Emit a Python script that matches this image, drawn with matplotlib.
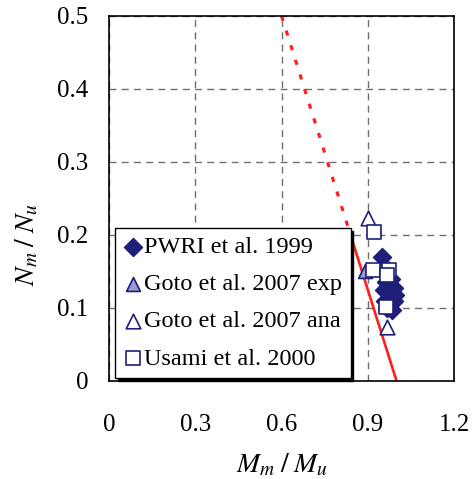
import numpy as np
import matplotlib
matplotlib.use('Agg')
import matplotlib.pyplot as plt

# ---------- DATA ----------
pwri_x = [0.948, 0.955, 0.962, 0.978, 0.990, 0.966, 0.982, 0.995, 0.960, 0.975, 0.992, 0.968, 0.985, 0.958, 0.980]
pwri_y = [0.170, 0.158, 0.135, 0.132, 0.128, 0.122, 0.120, 0.118, 0.110, 0.108, 0.110, 0.100, 0.097, 0.125, 0.140]

goto_exp_x = [0.890]
goto_exp_y = [0.150]

goto_ana_x = [0.902, 0.966]
goto_ana_y = [0.223, 0.074]

usami_x = [0.922, 0.917, 0.974, 0.968, 0.962]
usami_y = [0.204, 0.152, 0.152, 0.145, 0.102]

# interaction line M/Mu = 1 - 0.8 N/Nu
line_n_solid = [0.0, 0.2]
line_n_dotted = [0.5, 0.2]

plt.rcParams['font.family'] = ['Liberation Serif', 'DejaVu Serif']
plt.rcParams['mathtext.fontset'] = 'stix'

fig = plt.figure(figsize=(4.72, 4.79), dpi=100)
ax = fig.add_axes([0.231, 0.2046, 0.731, 0.762])

navy = '#1f1f7a'
red = '#ff1f1f'

n_s = np.array(line_n_solid)
n_d = np.array(line_n_dotted)
ax.plot(1 - 0.8 * n_s, n_s, color=red, lw=1.9, zorder=2)
ax.plot(1 - 0.8 * n_d, n_d, color=red, lw=2.3, ls=(0, (1.6, 3.2)), zorder=2,
        clip_on=False)

ax.scatter(pwri_x, pwri_y, marker='D', s=85, color=navy, zorder=3,
           label='PWRI et al. 1999')
ax.scatter(goto_exp_x, goto_exp_y, marker='^', s=100, facecolor='#9a9acc',
           edgecolor=navy, lw=1.2, zorder=3, label='Goto et al. 2007 exp')
ax.scatter(goto_ana_x, goto_ana_y, marker='^', s=110, facecolor='white',
           edgecolor=navy, lw=1.2, zorder=3, label='Goto et al. 2007 ana')
ax.scatter(usami_x, usami_y, marker='s', s=95, facecolor='white',
           edgecolor=navy, lw=1.2, zorder=4, label='Usami et al. 2000')

ax.set_xlim(0, 1.2)
ax.set_ylim(0, 0.5)
ax.set_xticks([0, 0.3, 0.6, 0.9, 1.2])
ax.set_xticklabels(['0', '0.3', '0.6', '0.9', '1.2'])
ax.set_yticks([0, 0.1, 0.2, 0.3, 0.4, 0.5])
ax.set_yticklabels(['0', '0.1', '0.2', '0.3', '0.4', '0.5'])
ax.tick_params(length=0, labelsize=18)
ax.tick_params(axis='x', pad=24)
ax.tick_params(axis='y', pad=15)
ax.grid(True, color='#707070', ls=(0, (5, 3.8)), lw=1)
ax.set_axisbelow(True)
for sp in ax.spines.values():
    sp.set_linewidth(1.2)

ax.set_xlabel(r'$M_m\;/\;M_u$', fontsize=20)
ax.set_ylabel(r'$N_m\;/\;N_u$', fontsize=20)
ax.xaxis.set_label_coords(0.5, -0.195)
ax.yaxis.set_label_coords(-0.2, 0.375)

leg = ax.legend(loc='lower left', bbox_to_anchor=(0.017, 0.008), fontsize=17.5,
                frameon=True, fancybox=False,
                shadow={'color': 'black', 'alpha': 1},
                handletextpad=0.05, handlelength=0.8, borderpad=0.35,
                labelspacing=0.62, borderaxespad=0.0, framealpha=1)
leg.get_frame().set_edgecolor('black')
leg.get_frame().set_linewidth(1)

fig.savefig('out.png', dpi=100)
